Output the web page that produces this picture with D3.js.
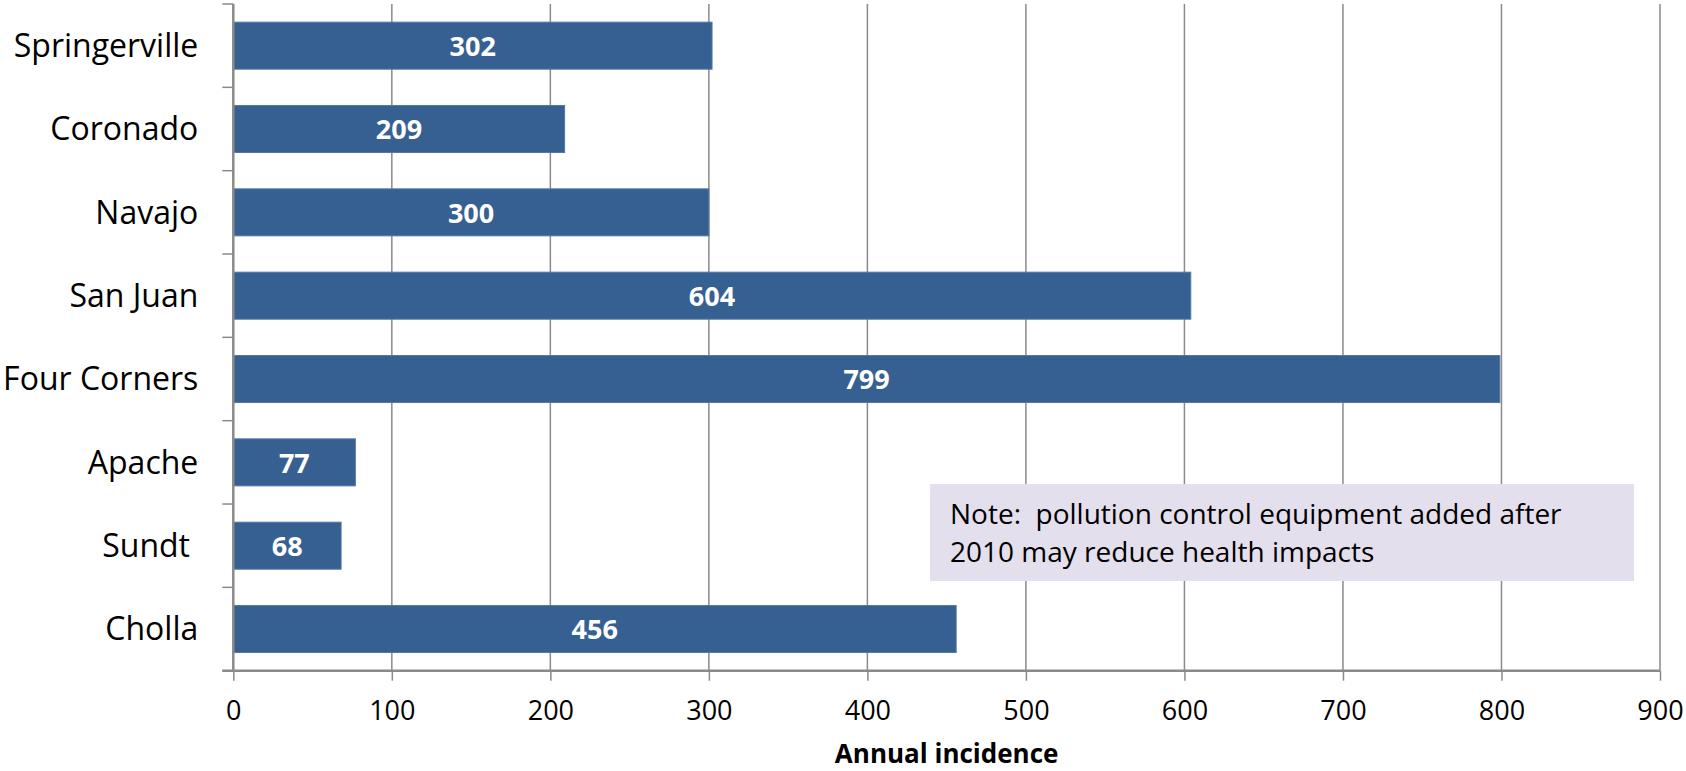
<!DOCTYPE html>
<html>
<head>
<meta charset="utf-8">
<script src="https://cdn.jsdelivr.net/npm/d3@7"></script>
<style>
  html, body { margin: 0; padding: 0; background: #fff; }
  svg { display: block; }
  text { font-family: "Open Sans", "Noto Sans", sans-serif; }
</style>
</head>
<body>
<svg id="chart" width="1686" height="771"></svg>
<script>
const categories = ["Springerville", "Coronado", "Navajo", "San Juan", "Four Corners", "Apache", "Sundt ", "Cholla"];
const values = [302, 209, 300, 604, 799, 77, 68, 456];
const xTicks = [0, 100, 200, 300, 400, 500, 600, 700, 800, 900];
const axisTitle = "Annual incidence";
const noteLines = ["Note:  pollution control equipment added after", "2010 may reduce health impacts"];

const W = 1686, H = 771;
const margin = { left: 233.3, top: 4, right: 26, bottom: 100.3 };
const iw = W - margin.left - margin.right;
const ih = H - margin.top - margin.bottom;

const svg = d3.select("#chart");
const g = svg.append("g").attr("transform", `translate(${margin.left},${margin.top})`);

const x = d3.scaleLinear().domain([0, 900]).range([0, iw]);
const y = d3.scaleBand().domain(categories).range([0, ih]).paddingInner(0.436).paddingOuter(0.218);
const yb = d3.scaleLinear().domain([0, categories.length]).range([0, ih]);

const gridColor = "#8a8a8a";

// gridlines
g.append("g").selectAll("line").data(xTicks.filter(d => d > 0)).join("line")
  .attr("x1", d => x(d)).attr("x2", d => x(d))
  .attr("y1", 0).attr("y2", ih)
  .attr("stroke", gridColor).attr("stroke-width", 1.5);

// bars
g.append("g").selectAll("rect").data(values).join("rect")
  .attr("x", x(0))
  .attr("y", (d, i) => y(categories[i]))
  .attr("width", d => x(d) - x(0))
  .attr("height", y.bandwidth())
  .attr("fill", "#376092")
  .attr("stroke", "#5078a8")
  .attr("stroke-width", 1);

// value labels
g.append("g").selectAll("text").data(values).join("text")
  .attr("x", d => (x(0) + x(d)) / 2)
  .attr("y", (d, i) => y(categories[i]) + y.bandwidth() / 2)
  .attr("dy", "0.38em")
  .attr("text-anchor", "middle")
  .attr("fill", "#ffffff")
  .attr("font-weight", "bold")
  .attr("font-size", 27)
  .text(d => d);

// x axis
const xAxis = d3.axisBottom(x).tickValues(xTicks).tickSize(10).tickPadding(20).tickFormat(d3.format("d"));
const gx = g.append("g").attr("transform", `translate(0,${ih})`).call(xAxis);
gx.select(".domain").attr("stroke", gridColor).attr("stroke-width", 2.5)
  .attr("d", `M-11,0H${iw}`);
gx.selectAll(".tick line").attr("stroke", gridColor).attr("stroke-width", 1.5);
gx.selectAll(".tick text").attr("font-size", 27).attr("fill", "#000")
  .attr("font-family", "'Open Sans', sans-serif");

// y axis
const gy = g.append("g");
gy.append("line").attr("x1", 0).attr("x2", 0).attr("y1", 0).attr("y2", ih)
  .attr("stroke", gridColor).attr("stroke-width", 2.5);
gy.selectAll("line.tk").data(d3.range(categories.length + 1)).join("line").attr("class", "tk")
  .attr("x1", -11).attr("x2", 0).attr("y1", d => yb(d)).attr("y2", d => yb(d))
  .attr("stroke", gridColor).attr("stroke-width", 1.5);
gy.selectAll("text").data(categories).join("text")
  .attr("x", -35)
  .attr("y", d => y(d) + y.bandwidth() / 2)
  .attr("dy", "0.35em")
  .attr("text-anchor", "end")
  .attr("font-size", 32)
  .attr("fill", "#000")
  .style("white-space", "pre")
  .text(d => d);

// axis title
svg.append("text")
  .attr("x", margin.left + iw / 2)
  .attr("y", 763)
  .attr("text-anchor", "middle")
  .attr("font-weight", "bold")
  .attr("font-size", 26)
  .attr("fill", "#000")
  .text(axisTitle);

// note box
const note = svg.append("g").attr("transform", "translate(930,484)");
note.append("rect").attr("width", 704).attr("height", 97).attr("fill", "#e4dfec");
note.selectAll("text").data(noteLines).join("text")
  .attr("x", 20)
  .attr("y", (d, i) => 40 + i * 37.7)
  .attr("font-size", 28)
  .attr("fill", "#000")
  .style("white-space", "pre")
  .text(d => d);
</script>
</body>
</html>
